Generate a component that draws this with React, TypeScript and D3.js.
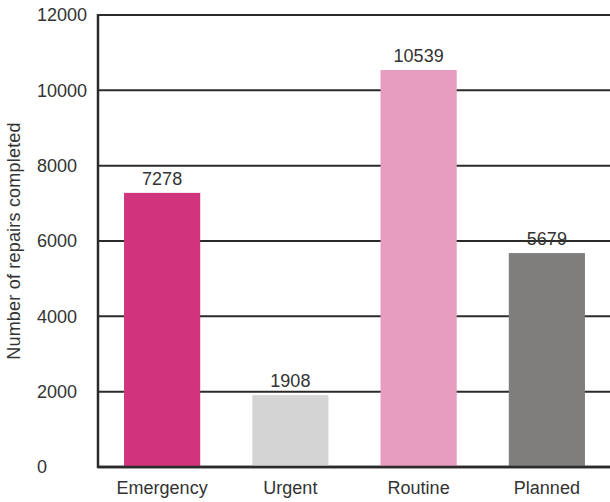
import * as d3 from 'd3';

// chart data
const categories = ['Emergency', 'Urgent', 'Routine', 'Planned'];
const repairs = [7278, 1908, 10539, 5679];
const barColors = ['#cf347d', '#d4d4d4', '#e79dc0', '#7f7e7d'];
const yTicks = [0, 2000, 4000, 6000, 8000, 10000, 12000];

const W = 610;
const H = 502;
const left = 98;
const right = 611;
const top = 15;
const bottom = 467;

export default function App() {
	const x = d3.scaleBand<string>().domain(categories).range([left, right]).paddingInner(0.406).paddingOuter(0.203);
	const y = d3.scaleLinear().domain([0, 12000]).range([bottom, top]);
	const font = 'Arial, "Liberation Sans", Helvetica, sans-serif';

	return (
		<svg width={W} height={H} style={{ position: 'absolute', left: 0, top: 0, background: '#fff' }} fontFamily={font}>
			{/* gridlines + y tick labels (left aligned like the original) */}
			{yTicks.map((t) => (
				<g key={t}>
					<line x1={left} x2={W} y1={y(t)} y2={y(t)} stroke="#2b2b2b" strokeWidth={t === 0 ? 2.5 : 2} />
					<text x={37} y={y(t)} dy="0.35em" fontSize={18} fill="#333">
						{t}
					</text>
				</g>
			))}
			{/* bars */}
			{categories.map((c, i) => (
				<g key={c}>
					<rect x={x(c)} y={y(repairs[i])} width={x.bandwidth()} height={bottom - y(repairs[i])} fill={barColors[i]} />
					<text x={(x(c) ?? 0) + x.bandwidth() / 2} y={y(repairs[i]) - 8} textAnchor="middle" fontSize={18} fill="#333">
						{repairs[i]}
					</text>
					<text x={(x(c) ?? 0) + x.bandwidth() / 2} y={494} textAnchor="middle" fontSize={18} fill="#333">
						{c}
					</text>
				</g>
			))}
			{/* axes */}
			<line x1={left} x2={left} y1={top - 1} y2={bottom + 1} stroke="#2b2b2b" strokeWidth={2.5} />
			<line x1={left - 1} x2={W} y1={bottom} y2={bottom} stroke="#2b2b2b" strokeWidth={2.5} />
			<text transform={`translate(20,241) rotate(-90)`} textAnchor="middle" fontSize={18} letterSpacing={0.2} fill="#333">
				Number of repairs completed
			</text>
		</svg>
	);
}
